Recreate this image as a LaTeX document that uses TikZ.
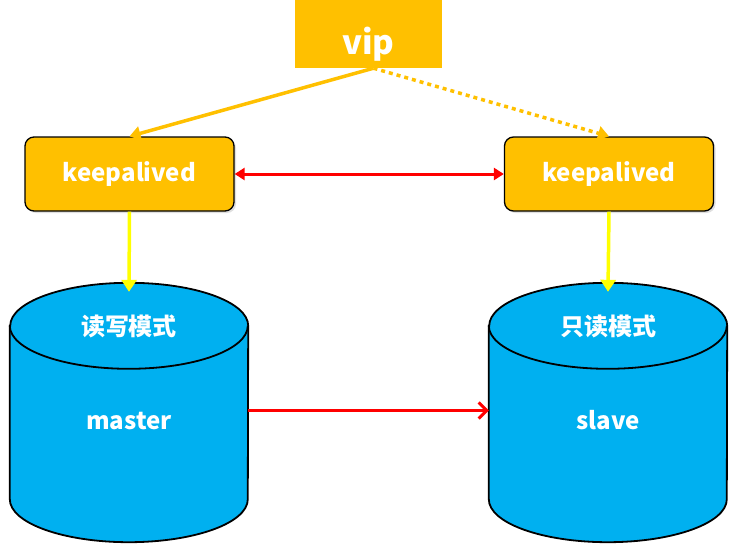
\documentclass[tikz,border=0pt]{standalone}
\usepackage{fontspec}
\setmainfont{Noto Sans CJK SC}
\usetikzlibrary{arrows.meta,shadows}
\definecolor{vipor}{HTML}{FFC000}
\definecolor{dbblue}{HTML}{00B0F0}
\definecolor{lnred}{HTML}{FF0000}
\definecolor{lnyel}{HTML}{FFFF00}
\tikzset{
  vipbox/.style={fill=vipor, minimum width=147pt, minimum height=68pt, inner sep=0pt},
  viptext/.style={text=white, inner sep=0pt, font=\bfseries\fontsize{33}{36}\selectfont},
  kabox/.style={fill=vipor, draw=black, line width=1.3pt, rounded corners=9pt, minimum width=209pt, minimum height=74pt, inner sep=0pt, text=white, font=\bfseries\fontsize{24}{28}\selectfont, drop shadow={opacity=0.25, shadow xshift=2pt, shadow yshift=-2pt}},
  cylbox/.style={minimum width=238pt, minimum height=259pt, inner sep=0pt},
  cyl/.style={fill=dbblue, draw=black, line width=1.8pt},
  dbtext/.style={text=white, font=\bfseries\fontsize{24}{28}\selectfont, inner sep=0pt},
  viparrow/.style={draw=vipor, line width=3.5pt, -{Triangle[length=11pt,width=14pt]}},
  vipdots/.style={draw=vipor, line width=3.5pt, dash pattern=on 4pt off 4pt, -{Triangle[length=11pt,width=14pt]}},
  redboth/.style={draw=lnred, line width=3pt, {Triangle[length=10pt,width=12pt]}-{Triangle[length=10pt,width=12pt]}},
  redopen/.style={draw=lnred, line width=3pt, -{Straight Barb[length=8pt,width=16pt,line width=3pt]}},
  yelarrow/.style={draw=lnyel, line width=3.5pt, -{Triangle[length=12pt,width=15pt]}},
}
\begin{document}
\begin{tikzpicture}[x=1pt,y=-1pt]
\useasboundingbox (0,0) rectangle (737,554);
\node[vipbox] (vip) at (368.5,34) {};
\node[viptext] (viplabel) at (368.5,44) {vip};
\node[kabox] (kl) at (129.5,174) {keepalived};
\node[kabox] (kr) at (609,174) {keepalived};
\node[cylbox] (m) at (129,412.5) {};
\node[cylbox] (s) at (608,412.5) {};
\foreach \c in {m,s}{
  \draw[cyl] ([yshift=-43pt]\c.north west) -- ([yshift=43pt]\c.south west)
    arc[start angle=180, end angle=360, x radius=119pt, y radius=43pt]
    -- ([yshift=-43pt]\c.north east)
    arc[start angle=0, end angle=180, x radius=119pt, y radius=43pt] -- cycle;
  \draw[black, line width=1.8pt] ([yshift=-43pt]\c.north west)
    arc[start angle=180, end angle=360, x radius=119pt, y radius=43pt];
}
\node[dbtext] (mt) at (129,326) {读写模式};
\node[dbtext] (mn) at (129,421) {master};
\node[dbtext] (st) at (608,326) {只读模式};
\node[dbtext] (sn) at (608,420) {slave};
\draw[viparrow] ([xshift=5pt]vip.south) -- (kl.north);
\draw[vipdots] ([xshift=5pt]vip.south) -- (kr.north);
\draw[redboth] (kl.east) -- (kr.west);
\draw[yelarrow] (kl.south) -- ([yshift=-9pt]m.north);
\draw[yelarrow] (kr.south) -- ([yshift=-9pt]s.north);
\draw[redopen] ([yshift=2pt]m.east) -- ([yshift=2pt]s.west);
\end{tikzpicture}
\end{document}
